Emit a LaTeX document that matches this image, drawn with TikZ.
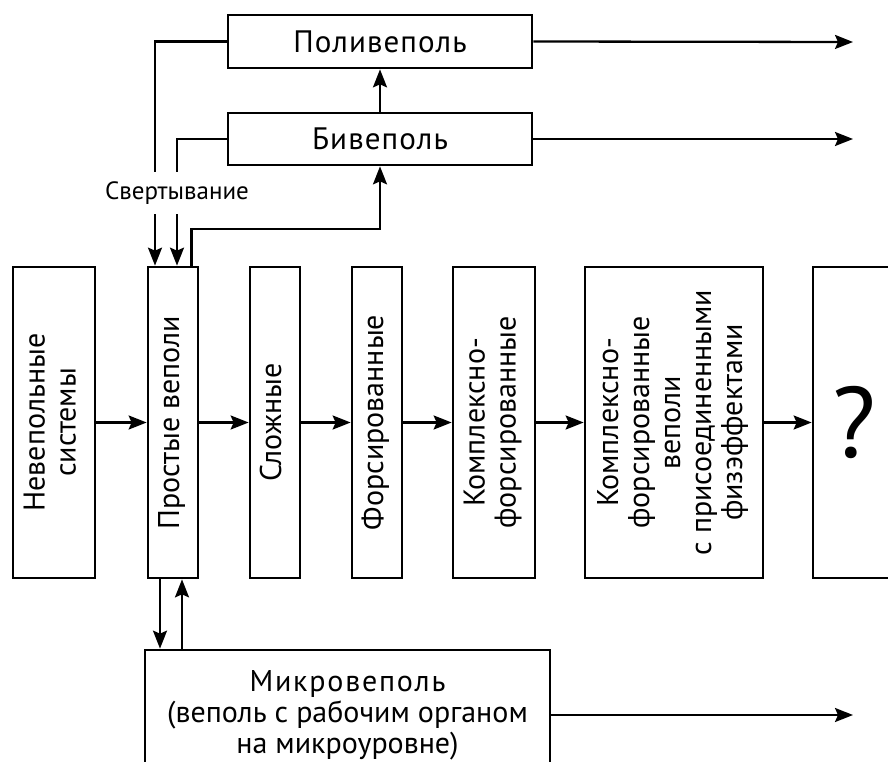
\documentclass[tikz,border=0pt]{standalone}
\usepackage{fontspec}
\setmainfont{PT Sans}
\usepackage{graphicx}
\usetikzlibrary{arrows.meta}
\tikzset{
  box/.style={draw, line width=2.7pt, inner sep=0pt, align=center},
  conn/.style={line width=2.3pt},
  arr/.style={conn, -{Stealth[length=18pt,width=14pt,inset=3pt]}},
  lbl/.style={font=\fontsize{30}{31}\selectfont},
  hlbl/.style={font=\fontsize{31}{31}\selectfont\addfontfeature{LetterSpace=3.5}}
}
\newcommand{\vtext}[1]{\rotatebox{90}{\begin{tabular}{@{}c@{}}#1\end{tabular}}}
\begin{document}
\begin{tikzpicture}[x=1pt,y=-1pt]
\useasboundingbox (0,0) rectangle (888,762);
\begin{scope}
\clip (0,0) rectangle (888,762);
% top boxes
\node[box, hlbl, minimum width=304, minimum height=53] (poli) at (380,41.5) {Поливеполь};
\node[box, hlbl, minimum width=304, minimum height=52] (biv) at (380,139) {Бивеполь};
% main row
\node[box, lbl, minimum width=82, minimum height=311] (nev) at (54,422.5) {\vtext{Невепольные\\системы}};
\node[box, lbl, minimum width=50, minimum height=311] (prost) at (173,422.5) {\vtext{Простые веполи}};
\node[box, lbl, minimum width=50, minimum height=311] (slozh) at (275,422.5) {\vtext{Сложные}};
\node[box, lbl, minimum width=50, minimum height=311] (fors) at (377,422.5) {\vtext{Форсированные}};
\node[box, lbl, minimum width=82, minimum height=311] (kompl) at (494,422.5) {\vtext{Комплексно-\\форсированные}};
\node[box, lbl, minimum width=178, minimum height=311] (kfv) at (674,422.5) {\vtext{Комплексно-\\форсированные\\веполи\\с присоединенными\\физэффектами}};
\node[box, minimum width=82, minimum height=311, font=\fontsize{100}{100}\selectfont] (q) at (854,422.5) {?};
% bottom box
\node[box, lbl, minimum width=405, minimum height=130] (micro) at (347.5,715) {{\addfontfeature{LetterSpace=6}Микровеполь}\\(веполь с рабочим органом\\на микроуровне)};
\end{scope}
% output coordinates
\coordinate (o1) at (853,42);
\coordinate (o2) at (853,139);
\coordinate (o3) at (853,715);
% horizontal chain
\draw[arr] (nev) -- (prost);
\draw[arr] (prost) -- (slozh);
\draw[arr] (slozh) -- (fors);
\draw[arr] (fors) -- (kompl);
\draw[arr] (kompl) -- (kfv);
\draw[arr] (kfv) -- (q);
% outputs
\draw[arr] (poli.east) -- (o1);
\draw[arr] (biv.east) -- (o2);
\draw[arr] (micro.east) -- (o3);
% upward chain
\draw[arr] ([xshift=-8pt]prost.north east) -- ++(0,-37) -| (biv.south);
\draw[arr] (biv) -- (poli);
% folding arrows
\draw[arr] (poli.west) -| ([xshift=-18pt]prost.north);
\draw[arr] (biv.west) -| ([xshift=4pt]prost.north);
\node[fill=white, inner xsep=1pt, inner ysep=10pt, font=\fontsize{25}{27}\selectfont] (svert) at (177,193) {Свертывание};
% micro links
\draw[arr] ([xshift=-13pt]prost.south) -- ([xshift=-13pt]prost.south |- micro.north);
\draw[arr] ([xshift=9pt]prost.south |- micro.north) -- ([xshift=9pt]prost.south);
\end{tikzpicture}
\end{document}
